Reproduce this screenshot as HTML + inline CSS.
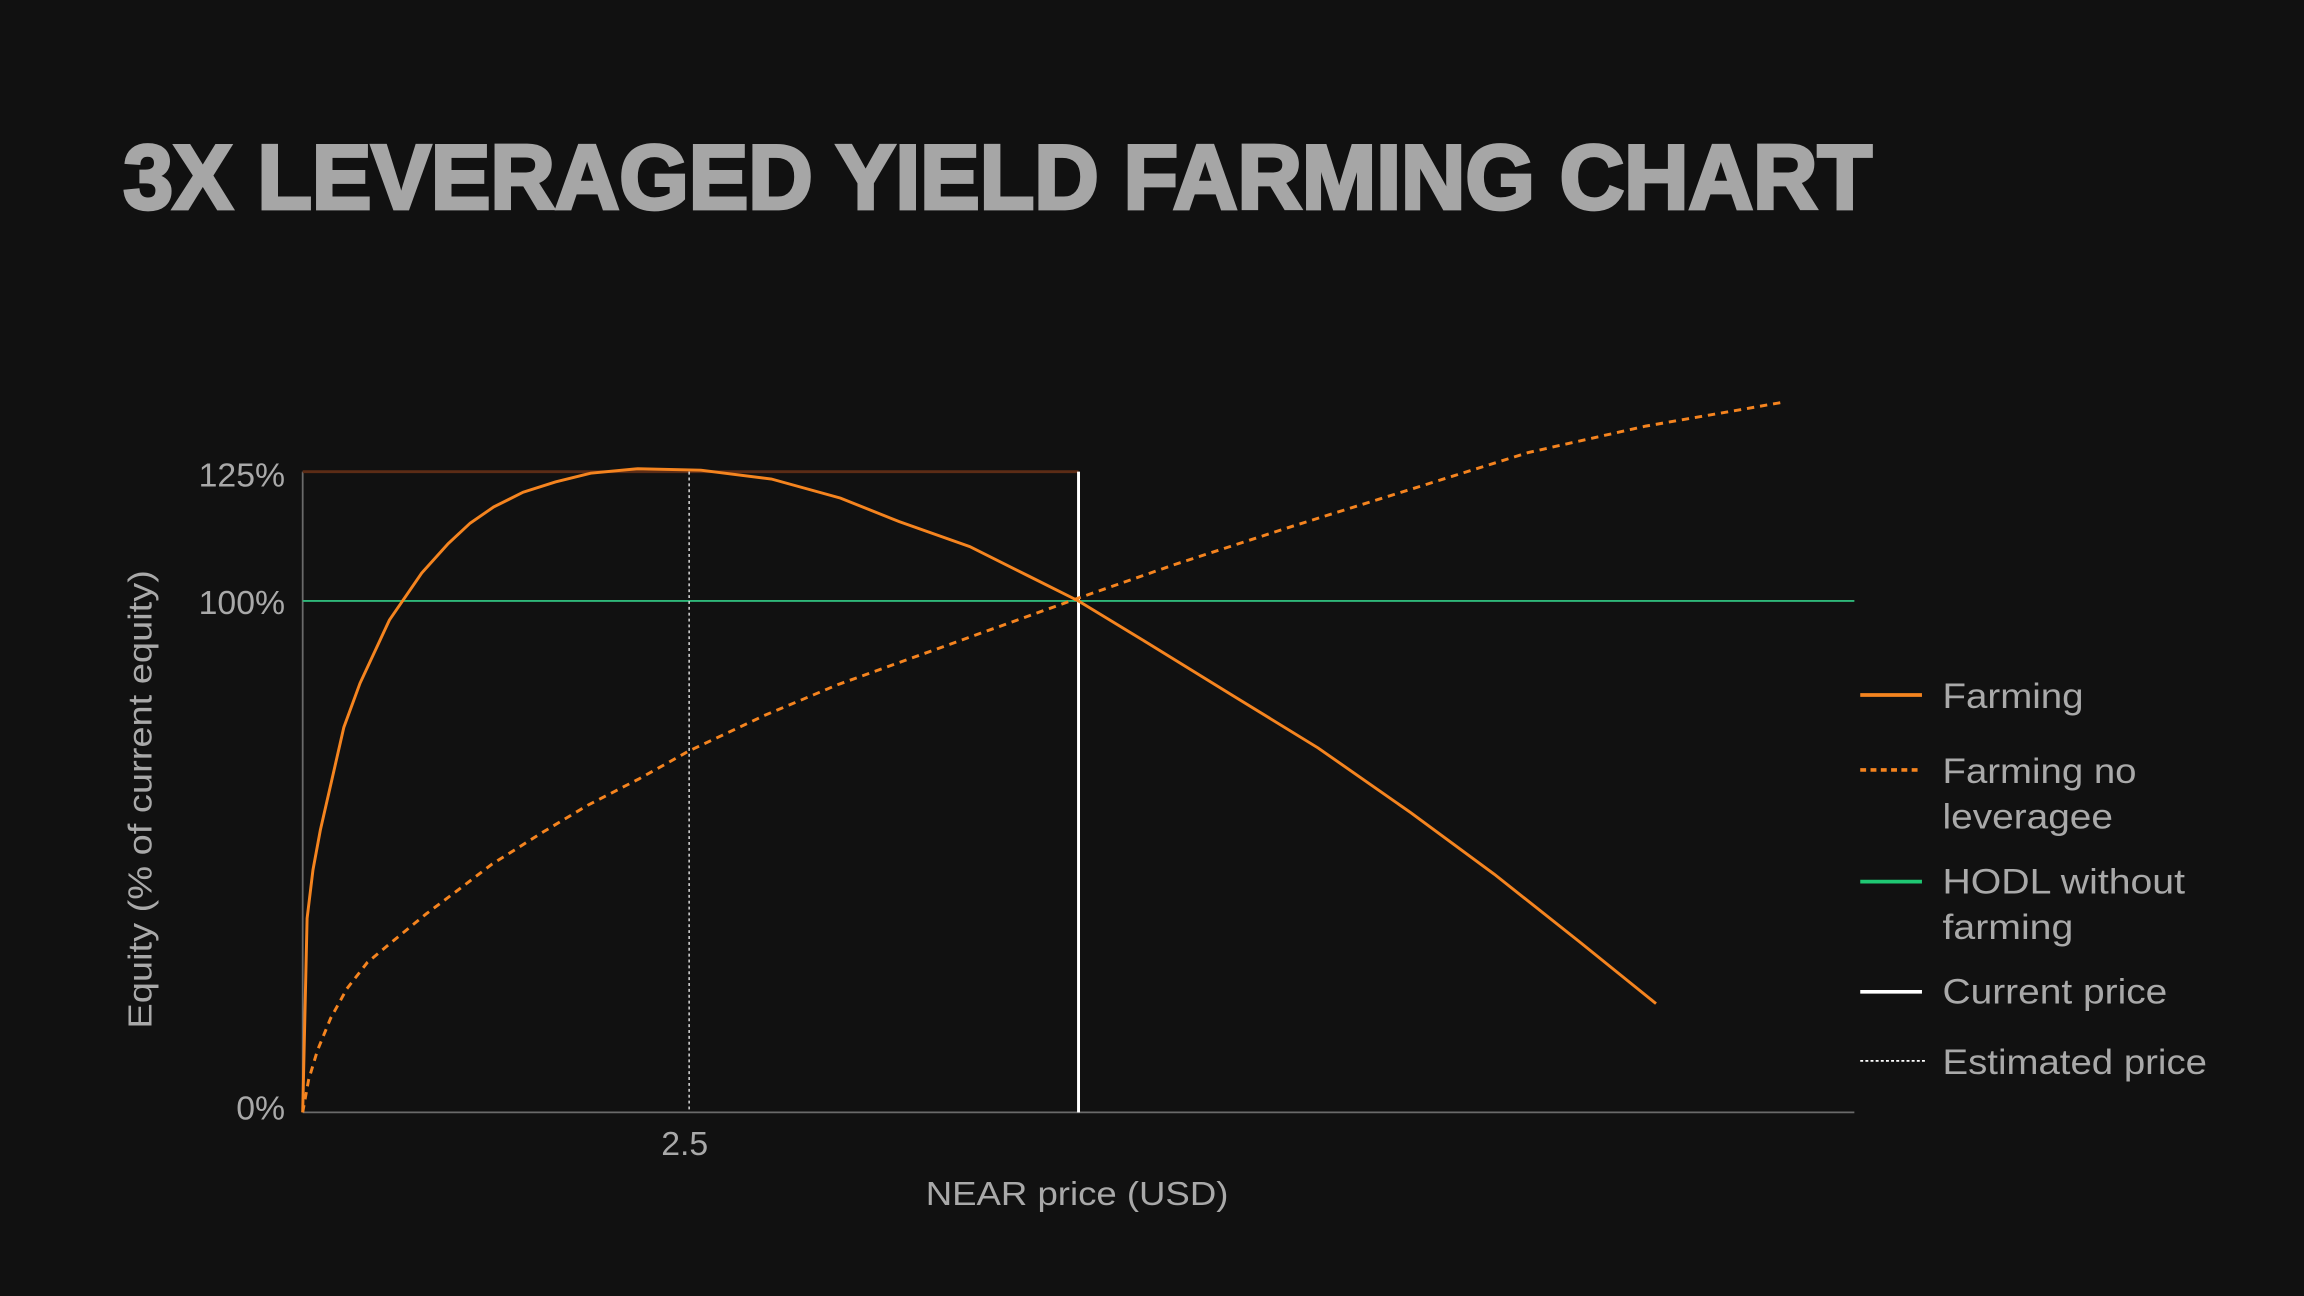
<!DOCTYPE html>
<html><head><meta charset="utf-8"><style>
html,body{margin:0;padding:0;background:#111111;}
svg{display:block;}
text{font-family:"Liberation Sans",sans-serif;fill:#a9a9a9;}
</style></head><body>
<svg width="2304" height="1296" viewBox="0 0 1568 882" xmlns="http://www.w3.org/2000/svg">
<rect width="1568" height="882" fill="#111111"/>
<text x="84" y="142" font-size="62" font-weight="bold" textLength="1190" lengthAdjust="spacingAndGlyphs" style="fill:#a6a6a6;stroke:#a6a6a6;stroke-width:2.5">3X LEVERAGED YIELD FARMING CHART</text>
<line x1="206" y1="321" x2="206" y2="757" stroke="#6a6a6a" stroke-width="1.2"/>
<line x1="206" y1="757" x2="1262" y2="757" stroke="#6a6a6a" stroke-width="1.2"/>
<line x1="206" y1="321" x2="734" y2="321" stroke="#5c2c16" stroke-width="2"/>
<line x1="206" y1="409" x2="1262" y2="409" stroke="#2fb779" stroke-width="1.3"/>
<line x1="469" y1="321" x2="469" y2="757" stroke="#ddd" stroke-width="1" stroke-dasharray="2,2"/>
<line x1="734" y1="321" x2="734" y2="757" stroke="#fff" stroke-width="2"/>
<polyline fill="none" stroke="#f5841f" stroke-width="2" stroke-dasharray="5,4" points="206,757 210,735 216,715 225,693 236,673 250,655 268,640 290,622 310,607 335,588 370,566 400,548 435,530 469,511 520,487 570,466 620,448 670,430 734,407 800,384 880,358 960,333 1040,308 1120,290 1212,274"/>
<polyline fill="none" stroke="#f5841f" stroke-width="2" points="206,757 209,625 213,592 218,565 226,530 234,495 245,465 265,422 287,390 305,370 320,356 336,345 356,335 378,328 402,322 434,319 477,320 525,326 572,339 612,355 660,372 700,392 734,409 780,437 840,474 897,509 960,553 1017,595 1075,641 1127,683"/>
<g font-size="23">
<text x="194" y="331" text-anchor="end">125%</text>
<text x="194" y="418" text-anchor="end">100%</text>
<text x="194" y="762" text-anchor="end">0%</text>
<text x="466" y="786" text-anchor="middle">2.5</text>
<text x="733" y="820" text-anchor="middle" textLength="206" lengthAdjust="spacingAndGlyphs">NEAR price (USD)</text>
<text transform="translate(103,544) rotate(-90)" text-anchor="middle" textLength="312" lengthAdjust="spacingAndGlyphs">Equity (% of current equity)</text>
</g>
<line x1="1266" y1="473" x2="1308" y2="473" stroke="#f5841f" stroke-width="2.5"/>
<line x1="1266" y1="524" x2="1308" y2="524" stroke="#f5841f" stroke-width="2.5" stroke-dasharray="4,3"/>
<line x1="1266" y1="600" x2="1308" y2="600" stroke="#1fc873" stroke-width="2.5"/>
<line x1="1266" y1="675" x2="1308" y2="675" stroke="#fff" stroke-width="2.5"/>
<line x1="1266" y1="722" x2="1310" y2="722" stroke="#fff" stroke-width="1.2" stroke-dasharray="2,1.5"/>
<g font-size="24">
<text x="1322" y="482" textLength="96" lengthAdjust="spacingAndGlyphs">Farming</text>
<text x="1322" y="533" textLength="132" lengthAdjust="spacingAndGlyphs">Farming no</text>
<text x="1322" y="564" textLength="116" lengthAdjust="spacingAndGlyphs">leveragee</text>
<text x="1322" y="608" textLength="165" lengthAdjust="spacingAndGlyphs">HODL without</text>
<text x="1322" y="639" textLength="89" lengthAdjust="spacingAndGlyphs">farming</text>
<text x="1322" y="683" textLength="153" lengthAdjust="spacingAndGlyphs">Current price</text>
<text x="1322" y="731" textLength="180" lengthAdjust="spacingAndGlyphs">Estimated price</text>
</g>
</svg>
</body></html>
